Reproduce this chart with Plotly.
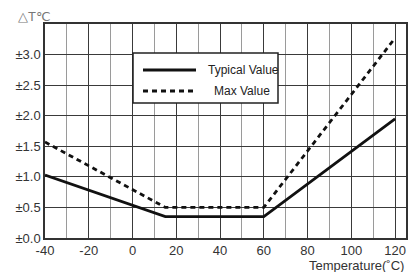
import plotly.graph_objects as go

# Data
typical_temp = [-40, 15, 60, 120]
typical_dt = [1.03, 0.35, 0.35, 1.95]
max_temp = [-40, 15, 60, 120]
max_dt = [1.57, 0.5, 0.5, 3.27]

x_ticks = [-40, -20, 0, 20, 40, 60, 80, 100, 120]
x_ticktext = ["-40", "-20", "0", "20", "40", "60", "80", "100", "120"]
y_ticks = [0.0, 0.5, 1.0, 1.5, 2.0, 2.5, 3.0]
y_ticktext = ["±0.0", "±0.5", "±1.0", "±1.5", "±2.0", "±2.5", "±3.0"]

series_names = ["Typical Value", "Max Value"]

FONT = "Liberation Sans, Arial, sans-serif"

fig = go.Figure()
fig.add_trace(go.Scatter(x=typical_temp, y=typical_dt, mode="lines",
                         name=series_names[0],
                         line=dict(color="#111111", width=2.8)))
fig.add_trace(go.Scatter(x=max_temp, y=max_dt, mode="lines",
                         name=series_names[1],
                         line=dict(color="#111111", width=2.8, dash="5px,4px")))

W, H = 408, 272
L, R, T, B = 45, 2, 24, 34
pw, ph = W - L - R, H - T - B

def px_x(p):
    return (p - L) / pw

def px_y(p):
    return (H - B - p) / ph

fig.update_layout(
    width=W, height=H,
    margin=dict(l=L, r=R, t=T, b=B, autoexpand=False),
    paper_bgcolor="white", plot_bgcolor="white",
    showlegend=False,
    font=dict(family=FONT, size=13, color="#333333"),
    xaxis=dict(range=[-40, 125], tickmode="array", tickvals=x_ticks,
               ticktext=x_ticktext,
               showgrid=True, gridcolor="#3a3a3a", gridwidth=1.2,
               minor=dict(dtick=10, tick0=0, showgrid=True,
                          gridcolor="#9a9a9a", gridwidth=1),
               showline=True, linecolor="#333333", linewidth=1.5, mirror=True,
               zeroline=False, ticks="", ticklen=0, automargin=False,
               tickfont=dict(size=13, color="#333333")),
    yaxis=dict(range=[0, 3.5], tickmode="array", tickvals=y_ticks,
               ticktext=y_ticktext,
               showgrid=True, gridcolor="#3a3a3a", gridwidth=1.2,
               showline=True, linecolor="#333333", linewidth=1.5, mirror=True,
               zeroline=False, ticks="", ticklen=0, automargin=False,
               tickfont=dict(size=13, color="#333333")),
)

# Custom legend box
shapes = [
    dict(type="rect", xref="paper", yref="paper",
         x0=px_x(133), x1=px_x(278), y0=px_y(103), y1=px_y(53),
         line=dict(color="#222222", width=1.5), fillcolor="white", layer="above"),
    dict(type="line", xref="paper", yref="paper",
         x0=px_x(143), x1=px_x(196), y0=px_y(70), y1=px_y(70),
         line=dict(color="#111111", width=2.8), layer="above"),
    dict(type="line", xref="paper", yref="paper",
         x0=px_x(143), x1=px_x(194), y0=px_y(91), y1=px_y(91),
         line=dict(color="#111111", width=2.8, dash="5px,4px"), layer="above"),
]
fig.update_layout(shapes=shapes)

fig.add_annotation(text=series_names[0], xref="paper", yref="paper",
                   x=px_x(206), y=px_y(70), xanchor="left", yanchor="middle",
                   showarrow=False, font=dict(size=12, color="#222222", family=FONT))
fig.add_annotation(text=series_names[1], xref="paper", yref="paper",
                   x=px_x(212), y=px_y(91), xanchor="left", yanchor="middle",
                   showarrow=False, font=dict(size=12, color="#222222", family=FONT))

# Axis titles
fig.add_annotation(text="△T℃", xref="paper", yref="paper",
                   x=px_x(16), y=px_y(16), xanchor="left", yanchor="middle",
                   showarrow=False, font=dict(size=13, color="#777777", family=FONT))
fig.add_annotation(text="Temperature(˚C)", xref="paper", yref="paper",
                   x=px_x(406), y=px_y(265), xanchor="right", yanchor="middle",
                   showarrow=False, font=dict(size=13, color="#333333", family=FONT))

fig.write_html(
    "out.html",
    config={"displayModeBar": False},
    post_script="document.body.style.margin='0';document.body.style.overflow='hidden';",
)
